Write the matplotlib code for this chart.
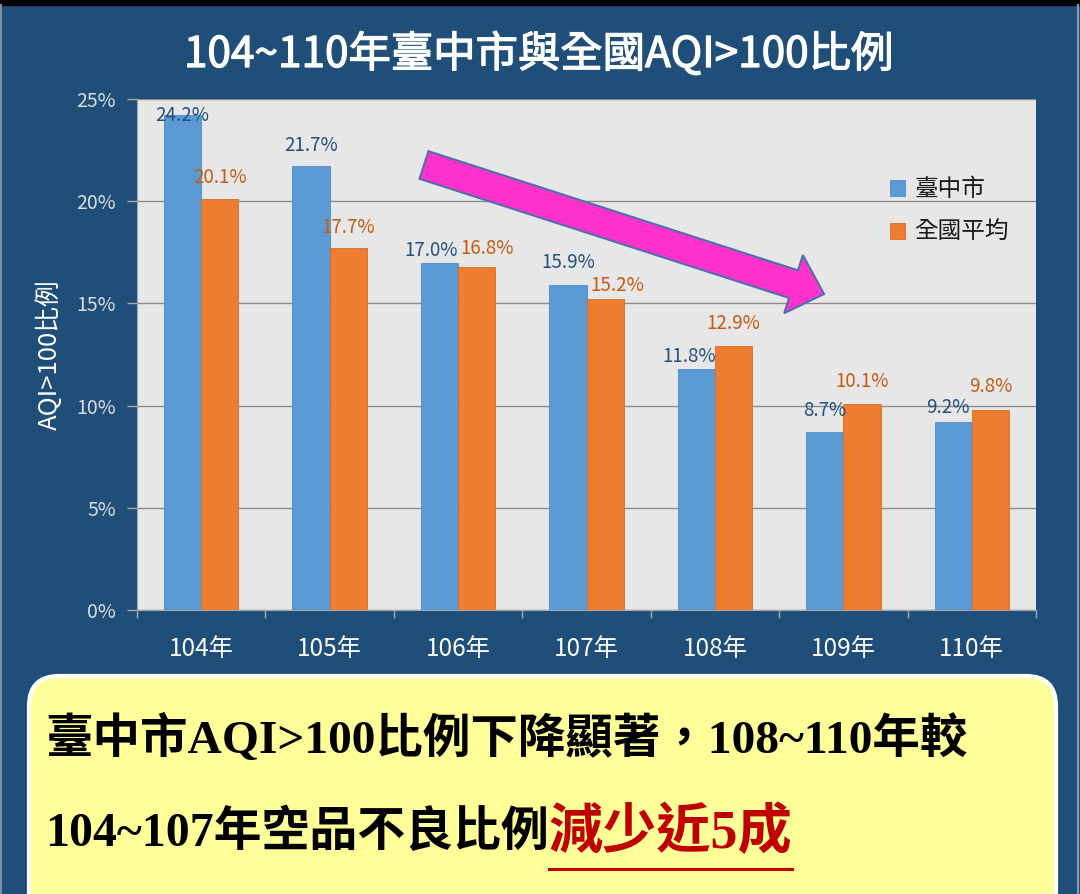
import matplotlib
matplotlib.use('Agg')
import matplotlib.pyplot as plt
import matplotlib.patheffects as pe
import numpy as np
from matplotlib.patches import FancyBboxPatch, FancyArrow, Rectangle

# ---------------- data ----------------
years = ['104年', '105年', '106年', '107年', '108年', '109年', '110年']
taichung = [24.2, 21.7, 17.0, 15.9, 11.8, 8.7, 9.2]
national = [20.1, 17.7, 16.8, 15.2, 12.9, 10.1, 9.8]
series_names = ['臺中市', '全國平均']
yticks = [0, 5, 10, 15, 20, 25]

title = '104~110年臺中市與全國AQI>100比例'
ylabel = 'AQI>100比例'
note_line1 = '臺中市AQI>100比例下降顯著，108~110年較'
note_line2 = '104~107年空品不良比例'
note_red = '減少近5成'

# label nudges (pixels, dx / dy above the bar top), hand-placed in the original
tc_nudge = [(0, 0), (0, 21), (-8, 12), (0, 23), (-7, 12), (0, 22), (-5, 14)]
nat_nudge = [(0, 22), (0, 21), (10, 18), (12, 14), (0, 23), (0, 22), (0, 23)]

# ---------------- style ----------------
NAVY = '#1F4E79'
BLUE = '#5B9BD5'
ORANGE = '#ED7D31'
CJK = ['Noto Sans CJK TC', 'DejaVu Sans']
NOTE = ['Liberation Serif', 'Noto Sans CJK TC']

W, H = 1080, 894
fig = plt.figure(figsize=(W / 100, H / 100), dpi=100)
fig.patch.set_facecolor(NAVY)

# chart
ax = fig.add_axes([137 / W, 1 - 610 / H, 899 / W, 511 / H])
ax.set_facecolor('#E7E7E7')
x = np.arange(len(years))
bw = 0.29
b1 = ax.bar(x - bw / 2, taichung, bw, color=BLUE, edgecolor='#4F8CC6', lw=0.6,
            label=series_names[0], zorder=3)
b2 = ax.bar(x + bw / 2, national, bw, color=ORANGE, edgecolor='#D46E27', lw=0.6,
            label=series_names[1], zorder=3)

for bars, vals, nudge, col in [(b1, taichung, tc_nudge, '#23507E'),
                               (b2, national, nat_nudge, '#C55A11')]:
    for r, v, (dx, dy) in zip(bars, vals, nudge):
        ax.annotate(f'{v:.1f}%', (r.get_x() + r.get_width() / 2, v),
                    xytext=(dx, dy), textcoords='offset pixels',
                    ha='center', va='center', color=col, fontsize=13.5,
                    family=CJK, zorder=5)

ax.set_xlim(-0.5, len(years) - 0.5)
ax.set_ylim(0, 25)
ax.set_yticks(yticks)
ax.set_yticklabels([f'{t}%' for t in yticks], family=CJK)
ax.set_xticks(x)
ax.set_xticklabels(years, family=CJK)
ax.set_xticks(np.arange(-0.5, len(years), 1), minor=True)
ax.yaxis.grid(True, color='#8C8C8C', lw=1)
ax.set_axisbelow(True)
for s in ['top', 'right']:
    ax.spines[s].set_visible(False)
for s in ['left', 'bottom']:
    ax.spines[s].set_color('#A6A6A6')
ax.tick_params(axis='y', colors='#A6A6A6', length=7, width=1,
               labelcolor='#DCDCDC', labelsize=14, pad=8)
ax.tick_params(axis='x', which='major', length=0, labelcolor='white',
               labelsize=17.5, pad=19)
ax.tick_params(axis='x', which='minor', length=6, width=1, color='#A6A6A6')

ax.set_ylabel(ylabel, color='white', fontsize=18.5, family=CJK, va='center')
ax.yaxis.set_label_coords((50 - 137) / 899, 0.5)

leg = ax.legend(handles=[b1, b2], loc='upper left',
                bbox_to_anchor=(890 / W, 1 - 178 / H),
                bbox_transform=fig.transFigure, frameon=False,
                prop={'family': CJK, 'size': 17},
                handlelength=0.64, handleheight=0.64, handletextpad=0.4,
                labelspacing=0.85, borderpad=0, borderaxespad=0)
for t in leg.get_texts():
    t.set_color('#1A1A1A')

# overlay in pixel coordinates for frame, arrow and note box
ov = fig.add_axes([0, 0, 1, 1], zorder=10)
ov.set_xlim(0, W)
ov.set_ylim(H, 0)
ov.axis('off')

ov.add_patch(Rectangle((0, 0), W, 5, color='black'))
ov.plot([1, 1], [5, H], color='#7F8FA0', lw=1.5)
ov.plot([1078, 1078], [5, H], color='#8A9AAA', lw=1.5)

ov.text(539, 55, title, color='white', fontsize=30.5, ha='center', va='center',
        family=CJK, path_effects=[pe.withStroke(linewidth=0.9, foreground='white')])

ov.add_patch(FancyArrow(424, 165, 400, 129, width=29, head_width=61,
                        head_length=32, length_includes_head=True,
                        fc='#FF33CC', ec='#4F6FA8', lw=1.5))

ov.add_patch(FancyBboxPatch((29, 676), 1027, 260,
                            boxstyle='round,pad=0,rounding_size=30',
                            fc='#FFFF99', ec='white', lw=3))

ov.text(45, 753, note_line1, fontsize=34.2, weight='bold', family=NOTE,
        color='black', ha='left', va='baseline')
t2 = ov.text(45, 846, note_line2, fontsize=34.5, weight='bold', family=NOTE,
             color='black', ha='left', va='baseline')

renderer = fig.canvas.get_renderer()
inv = ov.transData.inverted()
x_end = inv.transform(t2.get_window_extent(renderer).get_points())[1, 0]
t3 = ov.text(x_end, 848, note_red, fontsize=39, weight='bold', family=NOTE,
             color='#C00000', ha='left', va='baseline')
pts = inv.transform(t3.get_window_extent(renderer).get_points())
ov.plot([pts[0, 0], pts[1, 0]], [869, 869], color='#C00000', lw=2.2)

fig.savefig('out.png', dpi=100, facecolor=fig.get_facecolor())
